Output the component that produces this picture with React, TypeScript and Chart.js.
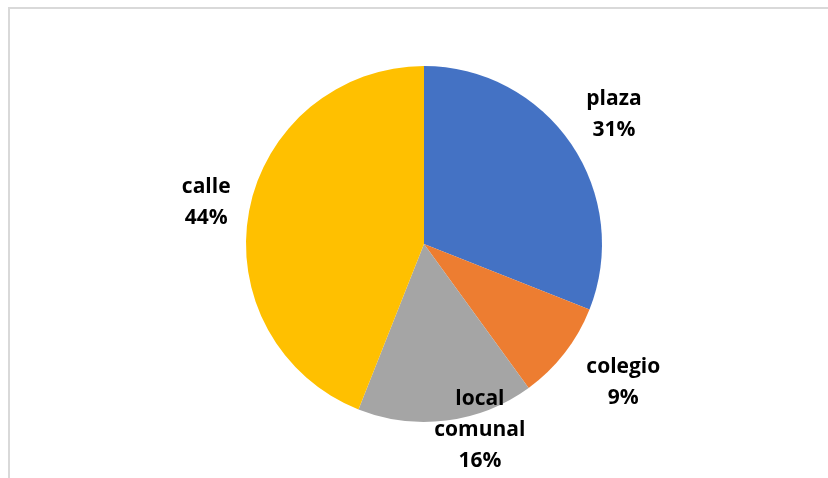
import React, { useEffect, useRef } from "react";
import { Chart, registerables } from "chart.js";

Chart.register(...registerables);

const categories = ["plaza", "colegio", "local comunal", "calle"];
const values = [31, 9, 16, 44];
const labelLines = [["plaza", "31%"], ["colegio", "9%"], ["local", "comunal", "16%"], ["calle", "44%"]];
const colors = ["#4472C4", "#ED7D31", "#A5A5A5", "#FFC000"];

// label placement: radial distance (multiple of radius) and small nudges
const labelRadius = [1.29, 1.36, 1.07, 1.24];
const labelNudge = [[0, 0], [8, -10], [32, -3], [-1, 0]];

const labelPlugin = {
  id: "sliceLabels",
  afterDatasetsDraw(chart: any) {
    const ctx = chart.ctx;
    const meta = chart.getDatasetMeta(0);
    ctx.save();
    ctx.font = "bold 21px 'Open Sans', sans-serif";
    ctx.fillStyle = "#000000";
    ctx.textAlign = "center";
    ctx.textBaseline = "middle";
    meta.data.forEach((arc: any, i: number) => {
      const p = arc.getProps(["x", "y", "startAngle", "endAngle", "outerRadius"], true);
      const mid = (p.startAngle + p.endAngle) / 2;
      const cx = p.x + Math.cos(mid) * p.outerRadius * labelRadius[i] + labelNudge[i][0];
      const cy = p.y + Math.sin(mid) * p.outerRadius * labelRadius[i] + labelNudge[i][1];
      const lines = labelLines[i];
      const lh = 31;
      const top = cy - ((lines.length - 1) * lh) / 2;
      lines.forEach((t, j) => ctx.fillText(t, cx, top + j * lh));
    });
    ctx.restore();
  },
};

export default function App() {
  const ref = useRef<HTMLCanvasElement>(null);
  useEffect(() => {
    const chart = new Chart(ref.current!, {
      type: "pie",
      data: {
        labels: categories,
        datasets: [{ data: values, backgroundColor: colors, borderWidth: 0 }],
      },
      options: {
        responsive: false,
        animation: false,
        layout: { padding: { top: 66, bottom: 56, left: 246, right: 226 } },
        plugins: { legend: { display: false }, tooltip: { enabled: false } },
      },
      plugins: [labelPlugin],
    });
    return () => chart.destroy();
  }, []);
  return (
    <>
      <div
        style={{
          position: "fixed",
          top: 7,
          left: 8,
          right: -10,
          bottom: -10,
          border: "2px solid #d9d9d9",
          background: "#fff",
        }}
      />
      <div style={{ position: "fixed", top: 0, left: 0, width: 828, height: 478 }}>
        <canvas ref={ref} width={828} height={478} style={{ width: 828, height: 478 }} />
      </div>
    </>
  );
}
